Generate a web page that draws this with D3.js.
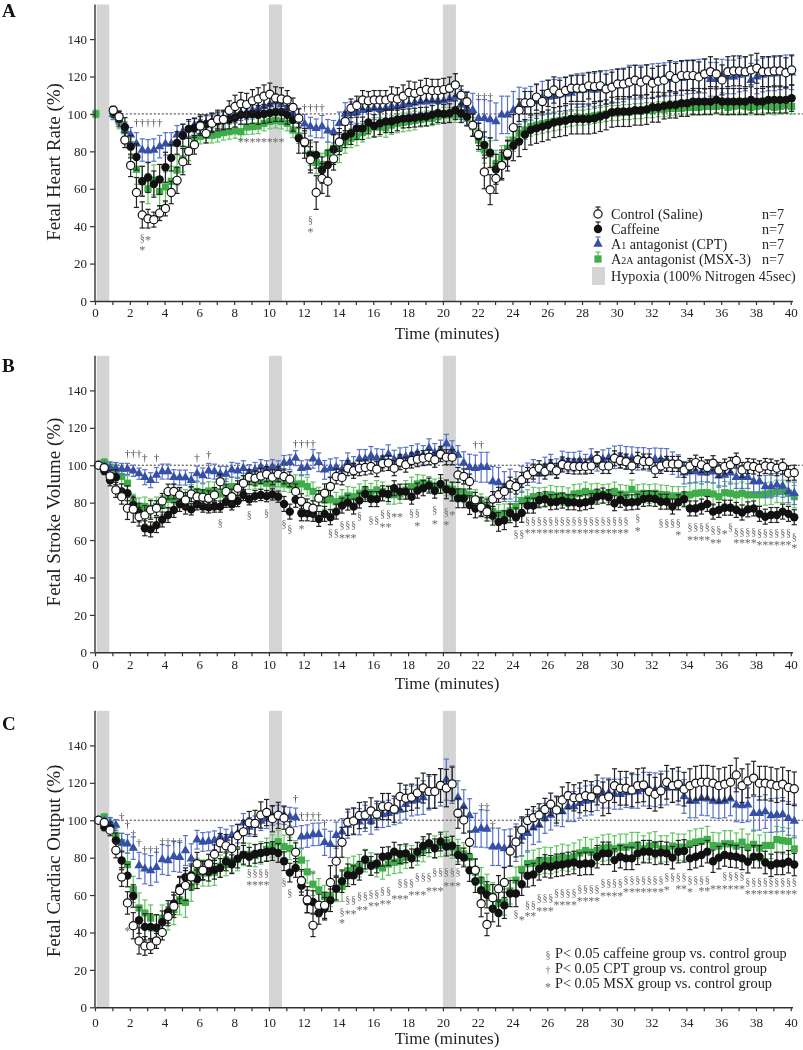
<!DOCTYPE html>
<html><head><meta charset="utf-8">
<script src="https://cdn.jsdelivr.net/npm/d3@7"></script>
<style>
body{margin:0;background:#fff}
svg{display:block}
text{font-family:"Liberation Serif","Times New Roman",serif}
.gs{opacity:0.999}
</style>
</head><body>
<svg id="chart" width="803" height="1050"></svg>
<script>
// ---------------- DATA ----------------
const hypoxiaPeriods = [[0.1, 0.82], [10, 10.75], [20, 20.75]];
const yTicks = [0, 20, 40, 60, 80, 100, 120, 140];
const xTickValues = d3.range(0, 41, 1);
const xLabelEvery = 2;
const baselineValue = 100;
const baselineFrom = 0.85, baselineTo = 40.7;
const sampleStep = 1 / 3; // minutes between samples
const timeOffsetA = 0.05, timeOffsetB = 0.2, timeOffsetC = 0.2;

const seriesNames = ["Control (Saline)", "Caffeine", "A1 antagonist (CPT)", "A2A antagonist (MSX-3)"];
const nLabels = ["n=7", "n=7", "n=7", "n=7"];
const hypoxiaLabel = "Hypoxia (100% Nitrogen 45sec)";
const footnotes = [["§", "P< 0.05 caffeine group vs. control group"], ["†", "P< 0.05 CPT group vs. control group"], ["*", "P< 0.05 MSX group vs. control group"]];

// Panel A: Fetal heart rate (%)
const hrControl = [
null,null,null,102,98.5,86,72.5,58,46,44,43.5,47,
49.5,58,64.5,74.5,80,83.5,93.5,89.5,95,97,97,102,
104,105.5,105,107,108,109.5,110.5,108.5,108,107.5,103.5,97.7,
85,75.5,58,65.5,64,76,85,96,103,104.5,107.5,107,
107.5,107.5,107.5,108.5,108,109.5,111.5,111,112,113,112.5,112.5,
113,113.7,115.5,110,106.5,94,89,69,59.5,65.5,72.5,79,
92.7,102,106,106,109,106.6,111,112.8,111,112.5,113.7,113.7,
113.7,115,114.6,115,113.3,114.3,116,116,117,118,117,118.2,
116.4,117.5,118,120.5,119,120.5,120.5,120.5,119.8,121.4,122.6,121.4,
118.2,122.6,123,123,122.6,123.5,124.4,122.6,122.6,123,123,122,
123.5];
const hrControlErr = [
0,0,0,2,3,4,6,8,7,5,4,4,
4,6,7,7,7,5,5,5,5,5,5,5,
6,6,6,6,6,6,6,6,6,5,5,5,
6,7,9,8,8,6,5,5,5,5,5,5,
5,5,5,6,6,6,6,6,6,6,6,6,
6,6,6,5,5,6,6,9,8,8,7,7,
7,6,6,6,7,6,7,7,7,7,7,7,
7,7,8,8,8,8,8,8,8,8,8,8,
8,8,8,8,8,8,8,8,8,8,8,8,
8,8,8,8,8,8,8,8,8,8,8,8,
8];
const hrCaffeine = [
null,null,null,101,97.5,93,82.5,77,64,66,62.5,65,
71.5,76.5,84.5,88.5,92,92.5,94.5,94.5,95.5,96,96.5,97,
98,99.5,99.5,100,99.5,100,100.5,101,101,99.5,96.8,87,
84.3,78,78,70,72.7,81,85.2,88,89.7,92.3,92.3,95.4,
93.6,95,96,96,97,97.5,97.7,98,98.5,98.6,99.5,100.4,
100,100.4,102,100.4,98.6,94,88,83.4,79.3,70.4,72.7,77.5,
83,85.2,89,91.4,92.3,93.2,94.1,95.4,95.9,96.4,97.3,97.3,
97.3,97.3,97.7,98.6,99.5,100.9,101.3,101.3,101.3,102,102,102.4,
103.6,103.6,104.3,104.8,104.8,105.7,105.7,106.6,106.6,106.6,106.6,107.5,
106.6,106.6,106.6,106.6,106.6,107.5,106.6,106.6,107.5,107.5,107.5,107.5,
108.4];
const hrCaffeineErr = [
0,0,0,3,4,5,6,7,8,8,7,8,
8,7,6,6,5,5,5,5,5,5,5,5,
5,5,5,5,5,5,5,5,5,5,6,8,
8,8,7,7,8,8,7,6,6,6,6,6,
6,6,6,6,6,5,5,5,5,5,5,5,
5,5,5,5,5,6,7,7,8,8,8,8,
8,8,8,8,8,8,8,8,8,8,8,8,
8,8,8,8,8,8,8,8,8,8,8,8,
8,8,7,7,7,7,7,7,7,7,7,7,
7,7,7,7,7,7,7,7,7,7,7,7,
7];
const hrCPT = [
null,null,null,100,97,91.4,88.8,84,80.7,80.3,80.7,82.5,
84,84,88.8,90.5,92,94,93,95,95,96,97,99,
99.5,100.5,101,102,103,104,105,106.5,105,103,100.4,98,
94.7,93.2,92.3,93.2,91,90.5,95,100,100.4,101,102,102.5,
103,102.5,103,104,104,105,105,106,106.5,106.5,107,107,
107,108,109,105,103,102,97.7,97.7,97,95.9,99.5,99.5,
102,104.3,104.8,105.7,106.6,108.4,109,109.4,110.3,110.8,111.2,112.5,
112.8,113.3,112.8,113.5,114.2,114.6,115,115.5,117,117,117,117.3,
117.8,118,118.3,118.6,119,119,119.8,120,120.2,120.2,118.5,118.5,
120.2,119.8,119.8,120.8,121.4,118,119.8,120.8,121.4,121.4,122,122.5,
122];
const hrCPTErr = [
0,0,0,3,4,4,4,6,6,6,6,6,
6,6,5,4,4,4,4,4,4,4,4,4,
4,4,4,4,4,4,4,4,4,4,5,5,
5,5,5,6,6,6,6,6,6,6,6,6,
6,6,6,6,6,6,6,6,6,6,6,7,
7,7,8,8,9,9,10,10,10,10,10,10,
10,10,9,9,9,9,9,9,9,9,9,9,
9,9,9,9,9,9,9,9,9,9,9,9,
9,9,9,9,9,9,9,9,9,9,9,9,
9,9,9,9,9,9,9,9,9,9,9,9,
9];
const hrMSX = [
100,null,null,100,96,91,83.5,70.4,64,60,64.7,58.5,
61,64,70,76,81,87,88,88.5,88.5,89,90,90.5,
91,90.5,93,93.2,93.5,95,96,96.5,96,95,91.4,88.2,
84.5,78.6,74,73,79,81.6,82,85,87,88,90,92,
93,93,92.5,94,95,95.5,96,96.5,97,97.5,97.7,98.5,
99.5,99.5,99.5,99.5,97.7,93.2,86,80.7,78.6,73.6,77,81.6,
86,89.7,91.4,93.2,94,94.7,95.4,96,96.5,97,97.5,98,
98,98.5,99,99.5,100,100.5,100.5,101,101,101.5,101.5,102,
102,102.5,102.5,103,103,103,103.5,103.5,103.5,104,104,104,
104.5,103.5,104,104.5,104,103.5,104,104.5,104,103.5,104,104.5,
104];
const hrMSXErr = [
2,0,0,3,4,5,6,8,8,8,8,8,
8,8,8,7,6,5,4,4,4,4,4,4,
4,4,4,4,4,4,4,4,4,4,4,4,
5,6,6,6,6,7,8,6,5,5,5,5,
5,5,5,5,5,5,5,5,4,4,4,4,
4,4,4,4,4,5,6,7,7,7,6,6,
6,5,5,5,5,5,5,5,5,4,4,4,
4,4,4,4,4,4,4,4,4,4,4,4,
4,4,4,4,4,4,4,4,4,4,4,4,
4,4,4,4,4,4,4,4,4,4,4,4,
4];

// Panel B: Fetal stroke volume (%)
const svControl = [
100,98.7,94.3,86.8,83.2,77,76.5,72.5,73.4,76.1,77,80.9,
85.9,86,84.1,81.4,84.6,83.2,82.9,82.3,84.1,91.2,85.9,83.2,
87.7,90.4,93.6,93,94.3,95.2,93.6,95.2,94,92.5,86,80.7,
78,77,82.4,85,88.6,94,93.5,98.4,97,98.4,98.8,99.3,
97.9,100.9,101.2,98.4,101.6,100.3,102.5,103.2,103.8,104.3,102.9,105.9,
104.3,104.3,94.8,94,91.3,81.5,77.5,75.2,81.9,84.2,86,89.6,
88.6,92.2,94.8,96.6,98.4,96.6,98.9,97,100.4,99.6,99.3,99.3,
99.3,99.6,103.2,99.6,99.6,103.7,102.5,101.9,99.6,102.9,102,102,
97.5,99.6,100.7,100.7,100.7,97.5,99.6,101.4,100.2,98.8,101.1,97.5,
99.3,100.2,102.5,97.5,99.6,99.3,98.4,99.6,99.3,98.4,99.3,95.7,
96];
const svControlErr = [
1,2,3,4,4,6,7,5,5,5,4,4,
4,4,4,4,4,4,4,4,4,4,4,4,
4,4,4,4,4,4,4,4,4,4,4,4,
4,4,4,5,5,4,4,4,4,4,4,4,
4,4,4,4,4,4,4,4,4,4,4,4,
4,4,4,4,4,4,5,5,4,4,4,4,
4,4,4,4,4,4,4,4,4,4,4,4,
4,4,4,4,4,4,4,4,4,4,4,4,
4,4,4,4,4,4,4,4,4,4,4,4,
4,4,4,4,4,4,4,4,4,4,4,4,
4];
const svCaffeine = [
100,97,92,93.6,86,85,78.7,74.7,66.3,65.7,68,71,
73.4,76.1,79.3,77.9,76.4,79.1,77.9,77.5,77.9,77.9,80.5,79.1,
80.9,84.1,81.8,83.5,84.1,83.5,84.4,83.2,79.3,75.2,81.5,74.3,
74.3,74,71.3,74,72.2,75.2,78.4,80,77.9,81.1,84.6,81.9,
81.9,85,84.6,87.7,85.9,85.9,83.2,86.4,87.7,89.1,86.4,90,
87.1,85.9,82.3,82.3,78.7,76.9,77.9,76.9,73,69.7,70.6,74.3,
72.2,74.5,78.4,78.4,81.3,81.8,80.2,80.5,81.1,80.2,80.2,79.7,
80.2,80.9,83.2,83.8,82.9,79.7,81.5,80,80.2,80.5,82,82.3,
82,80.5,80.5,77.9,80.2,81.8,76.9,76.9,77.9,79.3,75.2,76.1,
77.3,77.3,76.1,74.7,76.4,76.9,74,72.5,73.4,73.4,75.2,74,
72.2];
const svCaffeineErr = [
1,2,3,4,4,4,4,5,4,4,4,4,
4,4,4,4,3,3,3,3,3,3,3,3,
3,3,3,3,3,3,3,3,4,4,4,4,
4,4,4,4,4,4,4,4,4,4,4,4,
4,4,4,4,4,4,4,4,4,4,4,5,
5,5,5,5,5,5,5,5,5,5,5,5,
5,5,4,4,4,4,4,4,4,4,4,4,
4,4,4,4,4,4,4,4,4,4,4,4,
4,4,4,4,4,4,4,4,4,4,4,4,
4,4,4,4,4,4,4,4,4,4,4,4,
4];
const svCPT = [
100,99.5,98.5,98.5,98,98,97,95.5,93.6,92,94.8,96.6,
96.6,93.6,93.4,93.4,92,95.5,94.5,97,96.6,95.3,95.3,97.5,
97,98.4,96.3,97.5,99,98.4,99,98.4,101.2,101.6,103.8,98.4,
98.9,103.4,101.6,97.5,98.4,98.9,97.5,101.6,99.6,103.4,103.4,105,
103.8,103.5,105.9,103,104.3,104.6,105.5,106.4,105.5,109.1,106.6,108.4,
111.5,108.1,105.5,101.2,98.9,98.4,98.9,98.9,91.3,90.8,88.6,89.9,
88.6,92.5,95.2,97,95.4,99.3,100.8,98.4,102.5,101.9,101.9,102.5,
100.8,103.8,101.9,103.2,104,104.2,104.6,104,103.8,103.4,103.4,102.9,
103.2,103,102.9,101.1,99.6,96,96.6,96.6,96,96.9,96.5,94.3,
94.8,96,93.6,93.6,93.6,91.3,91.3,88.6,88.6,89.5,88.9,86,
85];
const svCPTErr = [
1,2,3,3,3,3,3,3,4,4,4,4,
4,4,4,4,4,4,4,4,4,4,4,4,
4,4,4,4,4,4,4,4,4,4,4,4,
4,5,5,5,5,5,5,5,5,5,5,5,
5,5,5,5,5,5,5,5,5,5,5,5,
5,5,5,6,7,7,8,8,8,8,8,8,
8,7,6,6,5,5,5,5,5,5,5,5,
5,5,5,5,5,6,6,6,6,6,6,6,
6,6,6,6,6,6,6,6,6,6,6,6,
6,6,6,6,6,6,6,6,6,6,6,6,
6];
const svMSX = [
100,101.5,99,96.6,94,90.4,80.5,77.5,78,77,78,78.7,
81.9,81.5,82.3,81.9,84.6,86,85,86.2,86,84.6,87.7,88.6,
88.6,90.7,92.1,91.3,91.3,90.4,90,92.5,90,89.5,89.9,90,
88.6,86,83.2,81.5,81.5,80.5,81.9,83.6,83.2,85,86.8,85.3,
86.8,86,84.2,84.2,84.6,86.8,88.6,90,90.7,90,88.6,89.1,
87.7,87.1,86,85,84.2,81.9,79.7,77.9,75.2,74,74.3,75.6,
77.9,81.1,81.9,83.2,82.9,83.2,84.2,83.6,83.6,82.9,84.6,85,
86,85,85.3,84.6,85,86,84.6,84.2,87.1,84.6,85,84.6,
85,84.4,84.2,83.6,83.6,83.6,84.2,85,85.3,85.3,84.6,83.2,
85.3,85,84.2,85,84.2,84.2,84.2,84.6,85,86,86,85,
83.2];
const svMSXErr = [
1,2,3,4,4,4,4,5,5,5,5,5,
5,5,5,5,5,5,5,5,5,5,5,5,
5,5,5,4,4,4,4,4,4,4,5,5,
5,5,5,5,5,5,5,5,5,5,5,5,
5,5,5,5,5,5,5,5,4,4,4,4,
4,4,5,5,5,5,5,5,5,5,5,5,
5,5,5,5,5,5,5,5,5,5,5,5,
5,5,5,5,5,5,5,5,5,5,5,5,
5,5,5,5,5,5,6,6,6,6,6,6,
6,6,6,6,6,6,6,6,6,6,6,6,
6];

// Panel C: Fetal cardiac output (%)
const coControl = [
100,98.8,94.7,83.9,69.6,55.8,43.6,35.5,32.8,32.8,35.5,40,
48.6,54,62.4,65.1,69.6,76.8,73.2,76.8,81.8,87.9,86.3,84.9,
91.7,93.8,98.7,98.3,102.8,104.1,100.8,102.6,101.2,94.2,82.9,67.6,
57.5,43.8,54.5,54.5,66.7,78.1,88.2,98.9,99.6,102.5,102.8,105,
103.2,107.3,107.3,105.9,112.7,111.8,112.3,114.5,117.2,115.4,115.4,118.6,
117.2,119.4,103.7,100.1,88.2,73.3,55.4,44.3,58.6,63.4,66.7,83.5,
88.4,94.8,99.8,101.3,102.8,105.7,108.5,105.5,110.8,113.1,112,112,
113.1,112.6,116.2,111.4,112.6,118.5,117.1,117.1,116.2,118.5,118.9,115.3,
113.9,115.7,120.3,118.5,119.3,116.6,118.5,119.8,120.3,120.3,119.8,118.5,
119.3,120.3,124.2,118.5,121,122.5,119.8,119.8,119.3,118.5,119.3,117.5,
116.8];
const coControlErr = [
1,2,3,4,5,6,7,7,5,4,4,4,
5,6,7,8,7,6,5,5,5,5,6,6,
6,6,6,7,7,7,7,7,6,5,5,6,
7,6,6,7,9,8,8,7,7,7,7,7,
7,7,7,7,7,7,7,8,8,9,9,9,
10,9,8,7,6,6,7,6,7,7,8,8,
8,7,6,6,6,6,6,7,7,7,7,8,
8,8,8,9,9,9,9,9,9,9,9,9,
9,9,9,9,9,9,9,9,9,9,9,9,
9,9,9,9,9,9,9,9,9,9,9,9,
9];
const coCaffeine = [
100,96.4,96,89.2,78.5,70.4,59.5,46.5,43,43,42.5,45.5,
51,55.5,64,69.5,70.5,68.5,73,72.5,73.5,74.5,78,76.5,
79.5,81.5,80.5,82,82.5,83,83.5,82.5,78.1,72,74.5,64.9,
56.6,56.3,50.4,52.7,57.2,63.4,67.4,70.6,70.6,73,79,75.6,
76.9,80.5,80.8,83.2,81.9,82.3,79.6,83.2,86.2,87.7,85,88.6,
85.9,86.4,81.4,80.1,73.3,67.4,62.6,60.2,52.7,50.4,54.5,60.8,
60.8,65.8,70.3,71,74,75.6,75.1,75.9,76.3,76.9,77.4,76.5,
76.9,76.9,80.5,82.3,82.3,78.7,80.5,79.6,79.6,82.3,83.2,83.2,
82.3,82.7,82.3,80,83.2,83.6,79.6,80.5,81.4,83.2,78.1,80,
81.4,80.8,80.5,79.6,77.8,80.5,80.5,77.4,75.9,76.9,76.9,77.8,
76.3];
const coCaffeineErr = [
1,2,3,4,5,6,6,7,7,7,7,6,
6,6,6,5,5,5,5,5,5,5,5,5,
5,5,5,5,5,5,5,5,5,5,5,5,
6,6,6,6,6,6,6,6,5,5,5,5,
5,5,5,5,5,5,5,5,5,5,5,5,
5,5,5,5,6,6,7,7,7,7,7,7,
7,6,6,6,6,6,6,6,6,6,6,6,
6,6,6,6,6,6,6,6,6,6,6,6,
6,6,6,6,6,6,6,6,6,6,6,6,
6,6,6,6,6,6,6,6,6,6,6,6,
6];
const coCPT = [
100,99.5,98.5,97.4,88,87.4,85.1,75.8,74,73.1,74.9,79,
78.5,80.6,80.2,83.8,79.4,89.6,88.4,88.7,89.3,91.1,90.2,92,
92.9,98.6,96.4,97.3,99.5,100.6,102.4,103.1,102.8,101.9,101.5,91.1,
91.5,92.4,92.5,88.2,87.1,92,93.8,97.4,99.2,99.2,101,99.5,
101.9,103.1,103.7,104.6,105.5,108.5,110.3,110.8,112.1,114.5,115.4,117.6,
121.7,119,112.1,107.3,102.5,94.7,95.6,95.3,85.8,85.8,84.9,85.3,
88,91,93,96,97.4,101,102.8,105,104.6,107.3,107.3,109.1,
110.3,110.8,113.2,114.5,114.5,113.9,113.9,114.8,115.4,115.4,116.6,116.6,
116.3,117.2,117.2,118.6,117.2,112.7,110.3,110.3,111.7,111.4,110.3,110,
110.3,111.4,108.2,107.8,108.2,103.7,103.7,104.6,102.5,102.8,103.1,101,
99.6];
const coCPTErr = [
1,2,3,3,5,5,6,7,8,8,8,8,
8,8,8,8,8,5,5,5,5,5,5,5,
5,5,5,5,5,5,5,5,5,5,5,6,
6,6,6,7,7,7,7,7,7,7,7,7,
7,7,7,7,7,8,8,8,9,9,9,10,
11,10,9,9,9,9,10,10,10,10,10,10,
10,10,10,9,9,8,8,8,8,8,8,8,
8,8,8,8,8,8,8,8,9,9,9,9,
9,9,9,9,9,9,9,9,9,9,9,9,
9,9,9,9,9,9,9,9,9,9,9,9,
9];
const coMSX = [
100,101.6,98,91.5,88,76.3,63,53.1,50.4,47.7,42.4,47.7,
48.3,52.2,57.5,56.1,64.7,72.7,71.8,71.8,72.2,75.4,76.3,78.1,
79,81.7,81.7,81.1,82.6,84.4,86.2,88.5,86,84.9,83.1,78.7,
72.4,65.8,62.8,59.2,59.9,63.5,64.6,73,74.8,75.7,78.4,76.6,
75.7,74.5,76.6,77.5,77.9,80.2,80.5,82,83.8,86.5,85.6,86.5,
88,85.6,83.8,82,80.2,72.2,67.7,64.1,59.6,55.6,56.3,62.2,
68,73.7,76.8,77,77.9,78.6,78.4,79.3,80.2,79.7,80.8,82.5,
83.8,82.9,83.8,85.1,85.6,84.7,85.6,85.6,86.5,86.5,84.7,86.2,
86.9,84.7,84.7,86.2,85.6,85.6,87.4,88.3,88.7,89.7,86.5,86.2,
87.4,87.4,86.2,88.3,85.6,87.1,85.1,86.5,86.5,89.7,89.1,88.7,
84.7];
const coMSXErr = [
1,2,3,4,5,6,7,8,7,7,7,7,
7,8,8,8,8,7,7,7,7,6,6,6,
6,6,6,6,6,6,6,6,6,6,6,6,
6,6,6,6,6,7,8,7,6,6,6,6,
6,6,6,6,6,6,6,6,6,6,6,6,
6,6,6,6,6,7,7,7,7,7,7,7,
7,7,7,7,7,7,7,7,7,7,7,7,
7,7,7,7,7,7,7,7,7,7,7,7,
7,7,7,7,7,7,7,7,7,7,7,7,
7,7,7,7,7,7,7,7,7,7,7,7,
7];

// significance marks: [symbol, first sample index, last sample index, value level]
const sigA = [
["†",7,11,95.5],["§",8,8,34],["*",9,9,34],["*",8,8,28.5],
["*",25,32,86.5],["†",36,39,103.5],["§",37,37,43.5],["*",37,37,38],
["†",66,68,109.5]];
const sigB = [
["†",5,7,106.4],["†",8,8,104.3],["†",10,10,104.3],["†",17,17,104.3],["†",19,19,106],
["§",21,21,69.3],["§",26,26,73.4],["§",29,29,75],["§",32,32,69],["§",33,33,66],
["†",34,37,111.5],["*",35,35,67.5],
["§",40,41,64],["§",42,44,68.5],["§",45,45,73],["*",42,44,62.5],
["§",47,48,71],["§",49,50,74],["*",49,50,68.5],["*",51,52,73.4],
["§",54,55,75],["*",55,55,69],["§",58,58,76.3],["*",58,58,70],
["§",60,60,75.5],["*",61,61,75],["*",60,60,69.5],
["†",65,66,111],
["§",72,73,63.7],["§",74,91,70.5],["*",74,91,65],
["§",93,93,72],["*",93,93,66],["§",97,100,69.5],["*",100,100,64],
["§",102,105,67.5],["*",102,105,61.3],["§",106,107,65.5],["*",106,107,60],
["*",108,108,64.5],["§",109,109,67.5],["§",110,113,64.5],["*",110,113,59.5],
["§",114,119,64],["*",114,119,58.5],["§",120,120,62],["*",120,120,57]];
const sigC = [
["†",4,4,102.2],["†",5,5,97.8],["†",6,6,92.9],["†",7,7,87.9],["†",8,10,84.6],["†",11,14,88.7],
["*",5,5,42.3],
["§",26,29,72],["*",26,29,66.5],["§",32,32,67],["§",33,33,61.6],
["†",34,34,111.5],["†",35,38,102.6],["†",39,39,98.3],["*",37,37,72.8],
["§",42,42,51.2],["*",42,42,46.4],
["§",43,44,57.5],["§",45,46,59.5],["§",47,48,61],["§",49,50,62.5],["§",52,54,66.5],["§",55,57,70],["§",58,62,72.5],
["*",43,44,51],["*",45,46,53.5],["*",47,48,55.5],["*",49,50,56.5],["*",51,53,59],["*",54,56,61.5],["*",57,59,63.5],["*",60,62,66],
["†",66,67,107.6],["†",68,68,97.8],
["§",72,72,50],["*",73,73,48],
["§",74,75,55],["§",76,78,58.5],["§",79,82,61.5],["§",83,86,63.5],["§",87,90,66.5],["§",91,97,68.5],["§",98,101,70],
["*",74,75,50],["*",76,78,53],["*",79,82,56],["*",83,86,58],["*",87,90,61],["*",91,97,63],["*",98,98,64],["*",100,101,64.5],
["§",102,105,68.5],["*",102,102,63],["*",104,105,63.5],
["§",108,111,70.5],["*",106,111,64.5],["§",112,120,67.5],["*",112,120,62]];

// ---------------- DRAWING ----------------
const svg = d3.select("#chart");
const root = svg.append("g").attr("class", "gs");
const x = d3.scaleLinear().domain([0, 40.1]).range([95, 792.5]);
const colors = {
  black: "#111", ctrlErr: "#222", cptFill: "#3550a6", cptErr: "#5873c9",
  msxFill: "#3fae4a", msxErr: "#63c463", hyp: "#d4d4d4", sig: "#6a6a6a", dag: "#3a3a3a", axis: "#333"
};

const panels = [
  {letter: "A", y0: 301, title: "Fetal Heart Rate (%)", titleCY: 162, tickDy: 16, xTitleY: 339, letterY: 17,
   offset: timeOffsetA, series: [[hrMSX, hrMSXErr], [hrCPT, hrCPTErr], [hrCaffeine, hrCaffeineErr], [hrControl, hrControlErr]], sig: sigA},
  {letter: "B", y0: 652.3, title: "Fetal Stroke Volume (%)", titleCY: 512, tickDy: 16, xTitleY: 689, letterY: 372,
   offset: timeOffsetB, series: [[svMSX, svMSXErr], [svCPT, svCPTErr], [svCaffeine, svCaffeineErr], [svControl, svControlErr]], sig: sigB},
  {letter: "C", y0: 1007.3, title: "Fetal Cardiac Output (%)", titleCY: 861, tickDy: 19, xTitleY: 1044, letterY: 730,
   offset: timeOffsetC, series: [[coMSX, coMSXErr], [coCPT, coCPTErr], [coCaffeine, coCaffeineErr], [coControl, coControlErr]], sig: sigC}
];
const kinds = ["msx", "cpt", "caf", "ctrl"];

function drawMarker(g, kind, cx, cy) {
  if (kind === "ctrl") {
    g.append("circle").attr("cx", cx).attr("cy", cy).attr("r", 4.1).attr("fill", "#fff").attr("stroke", "#111").attr("stroke-width", 1.2);
  } else if (kind === "caf") {
    g.append("circle").attr("cx", cx).attr("cy", cy).attr("r", 4.2).attr("fill", colors.black);
  } else if (kind === "cpt") {
    g.append("path").attr("d", d3.symbol(d3.symbolTriangle, 38)()).attr("transform", `translate(${cx},${cy})`).attr("fill", colors.cptFill);
  } else {
    g.append("rect").attr("x", cx - 3.6).attr("y", cy - 3.6).attr("width", 7.2).attr("height", 7.2).attr("fill", colors.msxFill);
  }
}
function errColor(kind) { return kind === "cpt" ? colors.cptErr : kind === "msx" ? colors.msxErr : colors.ctrlErr; }

panels.forEach(p => {
  const y = d3.scaleLinear().domain([0, 158.5]).range([p.y0, p.y0 - 296.5]);
  const g = root.append("g");
  const yTop = y(158.5);

  // hypoxia bars
  g.selectAll("rect.hyp").data(hypoxiaPeriods).join("rect").attr("class", "hyp")
    .attr("x", d => x(d[0])).attr("width", d => x(d[1]) - x(d[0]))
    .attr("y", yTop).attr("height", p.y0 - yTop).attr("fill", colors.hyp);

  // baseline 100 %
  g.append("line").attr("x1", x(baselineFrom)).attr("x2", x(baselineTo))
    .attr("y1", y(baselineValue)).attr("y2", y(baselineValue))
    .attr("stroke", "#333").attr("stroke-width", 1).attr("stroke-dasharray", "2,2");

  // series
  p.series.forEach(([vals, errs], si) => {
    const kind = kinds[si];
    const sg = g.append("g");
    const pts = vals.map((v, k) => ({t: k * sampleStep + p.offset, v, e: errs[k] || 0})).filter(d => d.v != null);
    const ec = errColor(kind);
    pts.forEach(d => {
      if (d.e > 0) {
        const cx = x(d.t), y1 = y(d.v - d.e), y2 = y(d.v + d.e);
        sg.append("line").attr("x1", cx).attr("x2", cx).attr("y1", y1).attr("y2", y2).attr("stroke", ec).attr("stroke-width", 1.2);
        sg.append("line").attr("x1", cx - 2.6).attr("x2", cx + 2.6).attr("y1", y1).attr("y2", y1).attr("stroke", ec).attr("stroke-width", 1.2);
        sg.append("line").attr("x1", cx - 2.6).attr("x2", cx + 2.6).attr("y1", y2).attr("y2", y2).attr("stroke", ec).attr("stroke-width", 1.2);
      }
    });
    pts.forEach(d => drawMarker(sg, kind, x(d.t), y(d.v)));
  });

  // significance marks
  const sgn = g.append("g");
  p.sig.forEach(([sym, k0, k1, lev]) => {
    for (let k = k0; k <= k1; k++) {
      const isStar = sym === "*";
      sgn.append("text").attr("x", x(k * sampleStep + p.offset)).attr("y", y(lev) + (isStar ? 6.5 : 3.5))
        .attr("text-anchor", "middle").attr("font-size", isStar ? 12 : sym === "§" ? 10 : 11)
        .attr("fill", sym === "†" ? colors.dag : colors.sig).text(sym);
    }
  });

  // axes
  const yAxis = d3.axisLeft(y).tickValues(yTicks).tickSize(5).tickSizeOuter(0).tickPadding(3);
  const ya = g.append("g").attr("transform", `translate(${x(0)},0)`).call(yAxis);
  ya.select(".domain").attr("d", `M0,${yTop}V${p.y0}`).attr("stroke", colors.axis).attr("stroke-width", 1.4);
  ya.selectAll(".tick line").attr("stroke", colors.axis).attr("stroke-width", 1.2);
  ya.selectAll(".tick text").attr("font-size", 13).attr("font-family", "Liberation Serif").attr("fill", "#222");

  const xAxis = d3.axisBottom(x).tickValues(xTickValues).tickSize(4).tickSizeOuter(0).tickPadding(4)
    .tickFormat(d => d % xLabelEvery === 0 ? d : "");
  const xa = g.append("g").attr("transform", `translate(0,${p.y0})`).call(xAxis);
  xa.select(".domain").attr("stroke", colors.axis).attr("stroke-width", 1.4);
  xa.selectAll(".tick line").attr("stroke", colors.axis).attr("stroke-width", 1.2);
  xa.selectAll(".tick text").attr("font-size", 13).attr("font-family", "Liberation Serif").attr("fill", "#222")
    .attr("y", p.tickDy - 9).attr("dy", "0.71em");

  g.append("text").attr("x", 447).attr("y", p.xTitleY).attr("text-anchor", "middle").attr("font-size", 17).attr("fill", "#222").text("Time (minutes)");
  g.append("text").attr("transform", `translate(60,${p.titleCY}) rotate(-90)`).attr("text-anchor", "middle").attr("font-size", 19).attr("fill", "#222").text(p.title);
  g.append("text").attr("x", 2).attr("y", p.letterY).attr("font-size", 19).attr("font-weight", "bold").attr("fill", "#111").text(p.letter);
});

// legend (panel A)
const lg = root.append("g");
const legRows = [214, 229, 244, 259];
const legKinds = ["ctrl", "caf", "cpt", "msx"];
legKinds.forEach((kind, i) => {
  const cy = legRows[i], cx = 598;
  const ec = errColor(kind);
  lg.append("line").attr("x1", cx).attr("x2", cx).attr("y1", cy).attr("y2", cy - 7).attr("stroke", ec).attr("stroke-width", 1.2);
  lg.append("line").attr("x1", cx - 2.5).attr("x2", cx + 2.5).attr("y1", cy - 7).attr("y2", cy - 7).attr("stroke", ec).attr("stroke-width", 1.2);
  drawMarker(lg, kind, cx, cy);
  const t = lg.append("text").attr("x", 611).attr("y", cy + 5).attr("font-size", 14.2).attr("fill", "#222");
  if (kind === "cpt") { t.append("tspan").text("A"); t.append("tspan").attr("font-size", 10).text("1"); t.append("tspan").text(" antagonist (CPT)"); }
  else if (kind === "msx") { t.append("tspan").text("A"); t.append("tspan").attr("font-size", 10).text("2A"); t.append("tspan").text(" antagonist (MSX-3)"); }
  else t.text(seriesNames[i]);
  lg.append("text").attr("x", 762).attr("y", cy + 5).attr("font-size", 14.2).attr("fill", "#222").text(nLabels[i]);
});
lg.append("rect").attr("x", 592).attr("y", 267).attr("width", 13).attr("height", 18).attr("fill", colors.hyp);
lg.append("text").attr("x", 611).attr("y", 281).attr("font-size", 14.2).attr("fill", "#222").text(hypoxiaLabel);

// footnotes (panel C)
const fg = root.append("g");
footnotes.forEach(([sym, txt], i) => {
  const by = 958 + i * 15;
  fg.append("text").attr("x", 548).attr("y", by + (sym === "*" ? 3 : 0)).attr("text-anchor", "middle").attr("font-size", sym === "*" ? 12 : 10).attr("fill", colors.sig).text(sym);
  fg.append("text").attr("x", 555).attr("y", by).attr("font-size", 14.3).attr("fill", "#222").text(txt);
});
</script>
</body></html>
